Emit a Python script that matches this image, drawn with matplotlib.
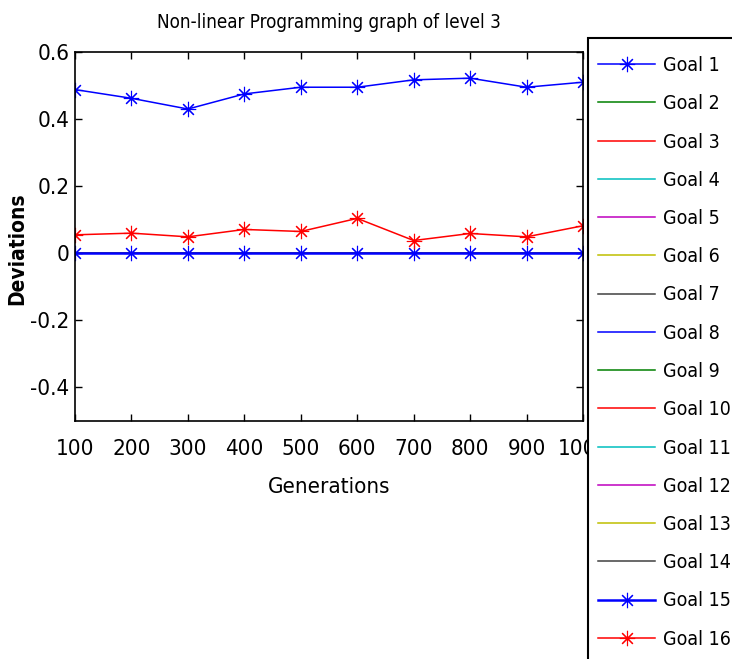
import numpy as np
import matplotlib
matplotlib.use("Agg")
import matplotlib.pyplot as plt
from matplotlib.patches import Rectangle

plt.rcParams["font.family"] = ["DejaVu Sans"]
plt.rcParams["font.stretch"] = "condensed"

generations = [100, 200, 300, 400, 500, 600, 700, 800, 900, 1000]
goal1 = [0.488, 0.462, 0.430, 0.475, 0.495, 0.495, 0.517, 0.522, 0.495, 0.510]
goal16 = [0.055, 0.060, 0.049, 0.071, 0.065, 0.104, 0.038, 0.059, 0.049, 0.082]
zero_goals = [0.0] * 10
labels = ["Goal %d" % i for i in range(1, 17)]
yticks = [0.6, 0.4, 0.2, 0, -0.2, -0.4]
ytick_labels = ["0.6", "0.4", "0.2", "0", "-0.2", "-0.4"]

# matlab default colour order
cycle = [(0, 0, 1), (0, 0.5, 0), (1, 0, 0), (0, 0.75, 0.75),
         (0.75, 0, 0.75), (0.75, 0.75, 0), (0.25, 0.25, 0.25)]
asterisk = (8, 2, 0)

W, H = 732, 659
fig = plt.figure(figsize=(W / 100, H / 100), dpi=100)
ax = fig.add_axes([75 / W, 1 - 421 / H, 508 / W, 369 / H])

handles = []
h, = ax.plot(generations, goal1, color=cycle[0], lw=1.1, marker=asterisk,
             ms=11, mew=0.8)
handles.append(h)
for i in range(1, 14):
    h, = ax.plot(generations, zero_goals, color=cycle[i % 7], lw=1.1)
    handles.append(h)
h, = ax.plot(generations, zero_goals, color=(0, 0, 1), lw=1.8, marker=asterisk,
             ms=11, mew=0.8)
handles.append(h)
h, = ax.plot(generations, goal16, color=(1, 0, 0), lw=1.1, marker=asterisk,
             ms=11, mew=0.8)
handles.append(h)

ax.set_xlim(100, 1000)
ax.set_ylim(-0.5, 0.6)
ax.set_xticks(generations)
ax.set_xticklabels([str(g) for g in generations])
ax.set_yticks(yticks)
ax.set_yticklabels(ytick_labels)
ax.tick_params(direction="in", length=5, width=1, top=True, right=True,
               labelsize=16)
ax.tick_params(axis="x", pad=13)
ax.tick_params(axis="y", pad=4)
for s in ax.spines.values():
    s.set_linewidth(1.2)

ax.set_title("Non-linear Programming graph of level 3", fontsize=13.5, pad=17)
ax.set_xlabel("Generations", fontsize=16, labelpad=13)
ax.set_ylabel("Deviations", fontsize=15, fontweight="bold")
ax.yaxis.set_label_coords(-48 / 508, (421 - 249) / 369)

# legend box runs off the bottom and right of the figure
box = Rectangle((588 / W, -0.1), 0.3, 1.1 - 38 / H, transform=fig.transFigure,
                facecolor="white", edgecolor="black", lw=1.5, zorder=4)
fig.patches.append(box)

leg = fig.legend(handles, labels, loc="upper left",
                 bbox_to_anchor=(598 / W, 1 - 56 / H), borderaxespad=0,
                 fontsize=14, frameon=False, labelspacing=0.99,
                 handlelength=2.95, handletextpad=0.38, borderpad=0)
leg.set_zorder(5)

fig.savefig("out.png", dpi=100)
